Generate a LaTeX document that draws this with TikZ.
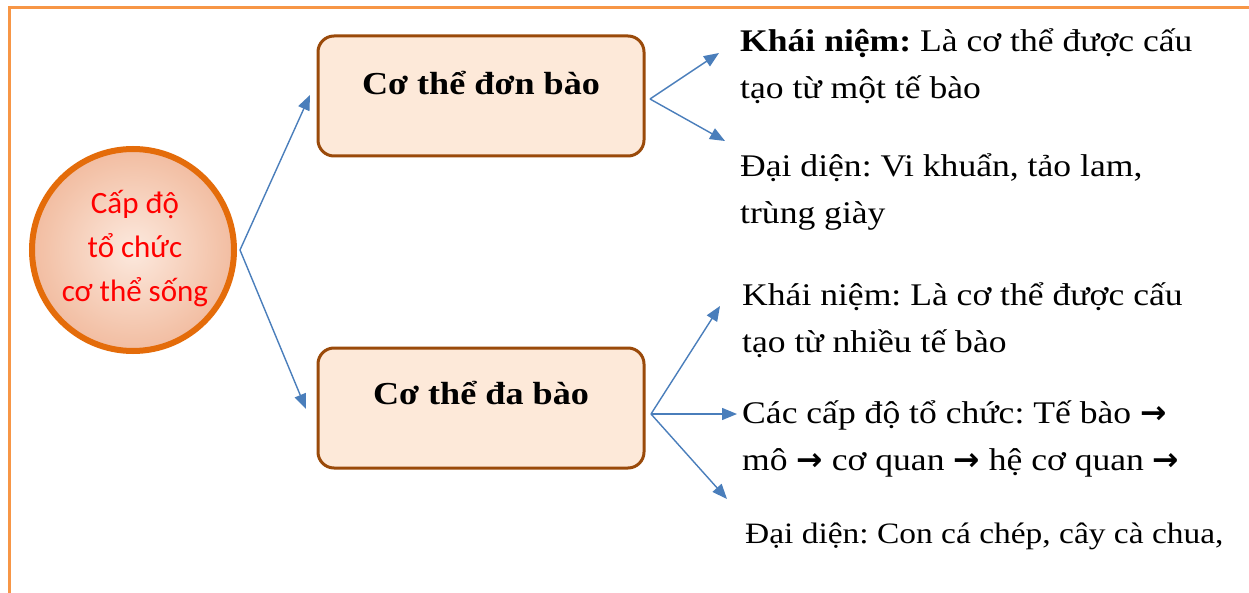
\documentclass[tikz,border=0pt]{standalone}
\usepackage{fontspec}
\setmainfont{Liberation Serif}[FakeStretch=1.13]
\newfontfamily\circfont{Carlito}
\newfontfamily\arrfont{DejaVu Sans}
\usetikzlibrary{arrows.meta}
\definecolor{frameorange}{HTML}{F79646}
\definecolor{circline}{HTML}{E46C0A}
\definecolor{circin}{HTML}{FCE9DE}
\definecolor{circmid}{HTML}{F3C2A8}
\definecolor{circout}{HTML}{E8906E}
\definecolor{boxline}{HTML}{9A4A0A}
\definecolor{boxfill}{HTML}{FDE9D9}
\definecolor{arrowblue}{HTML}{4A7EBB}
\pgfdeclareradialshading{circshade}{\pgfpoint{0bp}{0bp}}{color(0bp)=(circin); color(22bp)=(circmid); color(50bp)=(circout)}
\newcommand{\myarr}{{\arrfont\bfseries →}}
\frenchspacing
\begin{document}
\begin{tikzpicture}[x=1pt,y=-1pt,
  frame/.style={draw=frameorange, line width=3pt},
  bigcirc/.style={circle, draw=circline, line width=6pt, shading=circshade, minimum size=202pt, inner sep=0pt},
  circtext/.style={font=\circfont\fontsize{31}{44}\selectfont, text=red, align=center},
  box/.style={rectangle, rounded corners=16pt, draw=boxline, line width=3pt, fill=boxfill, minimum width=326pt, minimum height=120pt},
  boxtext/.style={font=\fontsize{32}{38}\selectfont\bfseries},
  info/.style={anchor=base west, align=left, inner sep=0pt, font=\fontsize{31.5}{47}\selectfont},
  conn/.style={draw=arrowblue, line width=1.4pt, -{Triangle[length=15pt,width=12pt]}}
]
\useasboundingbox (0,0) rectangle (1249,593);
\fill[white] (0,0) rectangle (1249,593);
\draw[frame] (9,593) |- (1249,8);

\node[bigcirc] (circ) at (133,250) {};
\node[circtext] (ctext) at (135,249) {Cấp độ\\tổ chức\\cơ thể sống};

\node[box] (b1) at (481,96) {};
\node[boxtext] (t1) at (481,83) {Cơ thể đơn bào};
\node[box] (b2) at (481,408) {};
\node[boxtext] (t2) at (481,393) {Cơ thể đa bào};

\node[info] (i1) at (740,99) {\textbf{Khái niệm:} Là cơ thể được cấu\\tạo từ một tế bào};
\node[info] (i2) at (740,224) {Đại diện: Vi khuẩn, tảo lam,\\trùng giày};
\node[info] (i3) at (742,352) {Khái niệm: Là cơ thể được cấu\\tạo từ nhiều tế bào};
\node[info] (i4) at (742,470) {Các cấp độ tổ chức: Tế bào \myarr\\mô \myarr{} cơ quan \myarr{} hệ cơ quan \myarr};
\node[info, font=\fontsize{29.6}{47}\selectfont] (i5) at (745,543) {Đại diện: Con cá chép, cây cà chua,};

\coordinate (s0) at (240,250);
\coordinate (e1) at (310,95);
\coordinate (e2) at (306,409);
\coordinate (s1) at (650,99);
\coordinate (e11) at (719,53);
\coordinate (e12) at (725,141);
\coordinate (s2) at (651,414);
\coordinate (e21) at (720,306);
\coordinate (e22) at (737,414);
\coordinate (e23) at (727,499);

\draw[conn] (s0) -- (e1);
\draw[conn] (s0) -- (e2);
\draw[conn] (s1) -- (e11);
\draw[conn] (s1) -- (e12);
\draw[conn] (s2) -- (e21);
\draw[conn] (s2) -- (e22);
\draw[conn] (s2) -- (e23);
\end{tikzpicture}
\end{document}
